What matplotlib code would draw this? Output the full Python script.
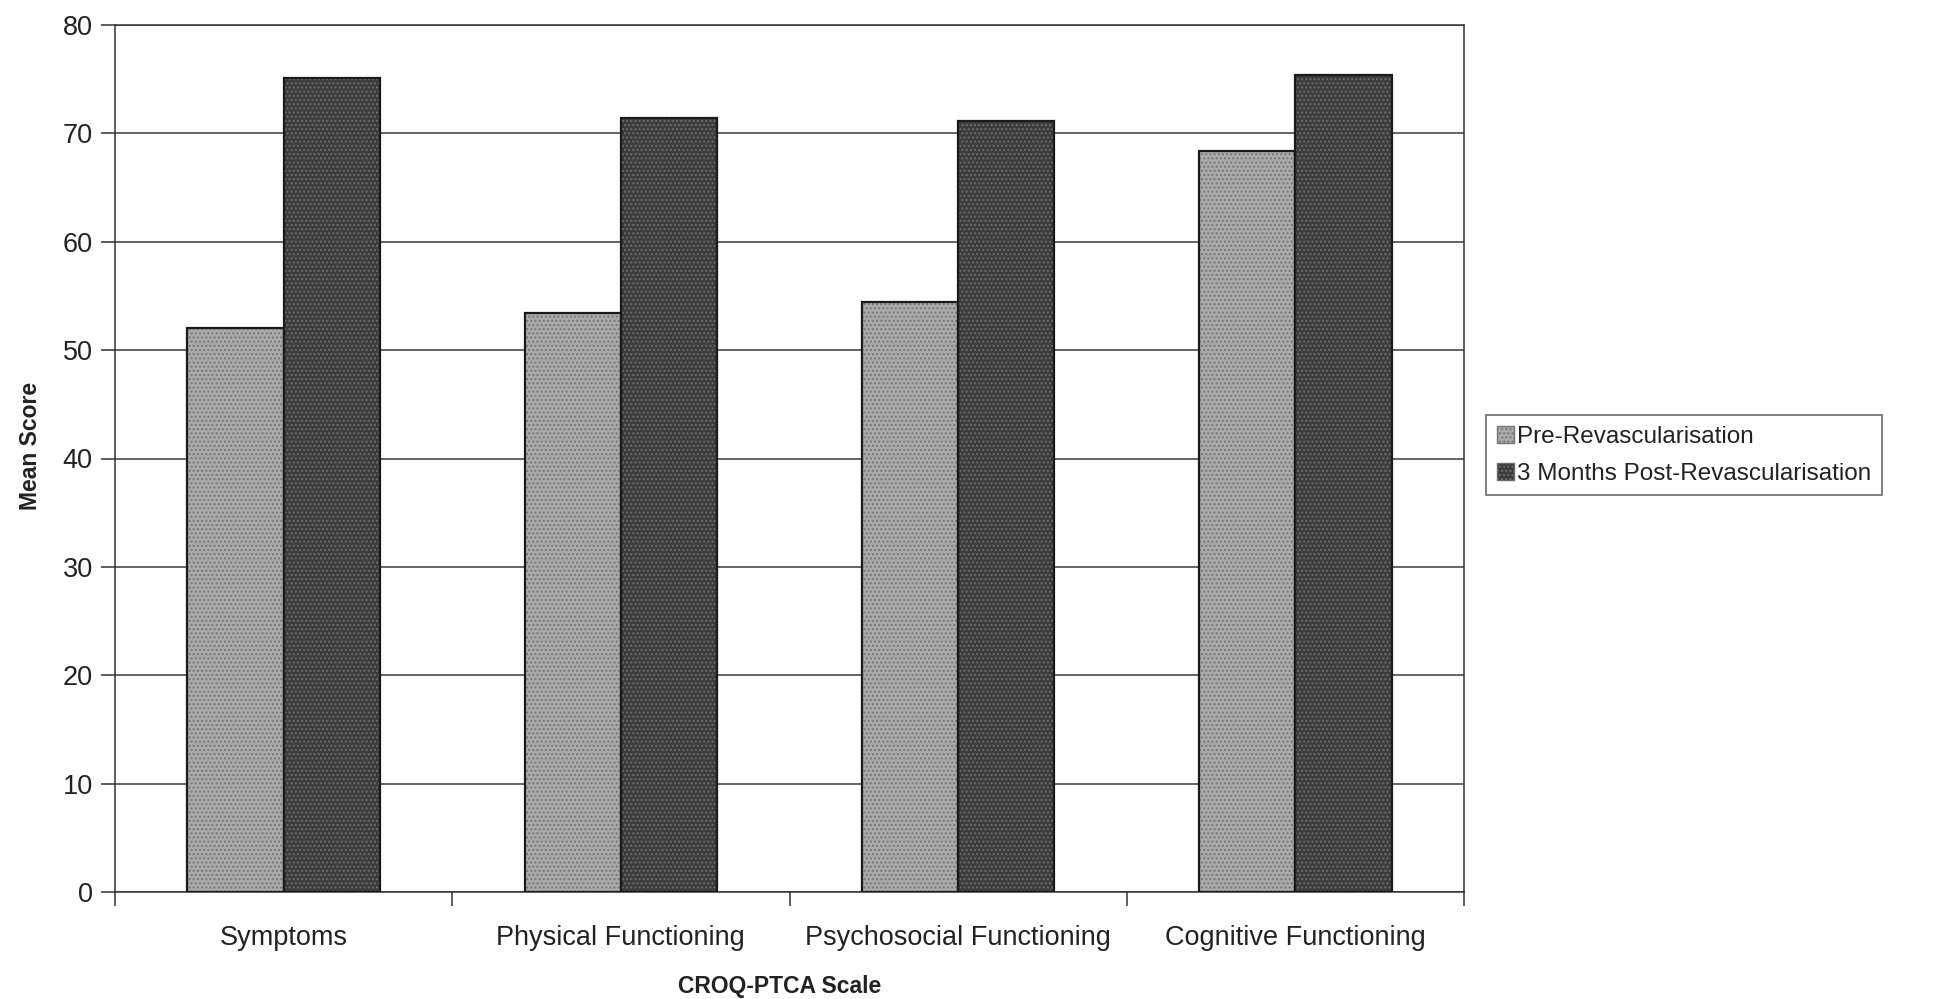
import matplotlib
matplotlib.use('Agg')
import matplotlib.pyplot as plt
import numpy as np

plt.rcParams['font.family'] = ['Liberation Sans', 'DejaVu Sans']
plt.rcParams['hatch.linewidth'] = 1.0

# data
categories = ['Symptoms', 'Physical Functioning', 'Psychosocial Functioning', 'Cognitive Functioning']
pre = [52.0, 53.4, 54.4, 68.4]
post = [75.1, 71.4, 71.1, 75.4]
series_names = ['Pre-Revascularisation', '3 Months Post-Revascularisation']

fig = plt.figure(figsize=(19.36, 9.99), dpi=100)
ax = fig.add_axes([115/1936, 1 - 892/999, (1464 - 115)/1936, (892 - 25)/999])

x = np.arange(len(categories))
w = 1 / 3.5

#fill with texture, then black outline on top
b1 = ax.bar(x - w/2, pre, w, color='#aaaaaa', hatch='....', edgecolor='#777777', linewidth=0, zorder=3)
b2 = ax.bar(x + w/2, post, w, color='#3c3c3c', hatch='....', edgecolor='#6c6c6c', linewidth=0, zorder=3)
ax.bar(x - w/2, pre, w, fill=False, edgecolor='#1a1a1a', linewidth=1.6, zorder=4)
ax.bar(x + w/2, post, w, fill=False, edgecolor='#1a1a1a', linewidth=1.6, zorder=4)

ax.set_xlim(-0.5, len(categories) - 0.5)
ax.set_ylim(0, 80)
ax.set_yticks(np.arange(0, 81, 10))
ax.yaxis.grid(True, color='#3a3a3a', linewidth=1.1, zorder=0)
ax.set_axisbelow(True)

ax.set_xticks(np.arange(-0.5, len(categories), 1.0))
ax.set_xticklabels([])
ax.set_xticks(x, minor=True)
ax.set_xticklabels(categories, minor=True, fontsize=19.5, color='#222222')
ax.tick_params(axis='x', which='major', direction='out', length=10, width=1.1, color='#333333')
ax.tick_params(axis='x', which='minor', length=0, pad=23.5)
ax.tick_params(axis='y', direction='out', length=10, width=1.1, color='#333333', labelsize=19.5, labelcolor='#222222', pad=6)

for s in ax.spines.values():
    s.set_color('#333333')
    s.set_linewidth(1.1)

ax.set_ylabel('Mean Score', fontsize=16.5, fontweight='bold', color='#222222')
ax.yaxis.set_label_coords(-0.054, 0.515)
ax.set_xlabel('CROQ-PTCA Scale', fontsize=16.5, fontweight='bold', color='#222222')
ax.xaxis.set_label_coords(0.493, -0.096)

leg = fig.legend([b1, b2], series_names, loc='upper left',
                 bbox_to_anchor=(1486/1936, 1 - 415/999), bbox_transform=fig.transFigure,
                 fontsize=17.5, frameon=True, fancybox=False, borderaxespad=0,
                 handlelength=0.7, handleheight=0.7, handletextpad=0.12,
                 labelspacing=0.6, borderpad=0.45)
leg.get_frame().set_edgecolor('#333333')
leg.get_frame().set_linewidth(1.1)
for t in leg.get_texts():
    t.set_color('#222222')
for p in leg.get_patches():
    p.set_linewidth(1.0)

fig.savefig('out.png', dpi=100)
